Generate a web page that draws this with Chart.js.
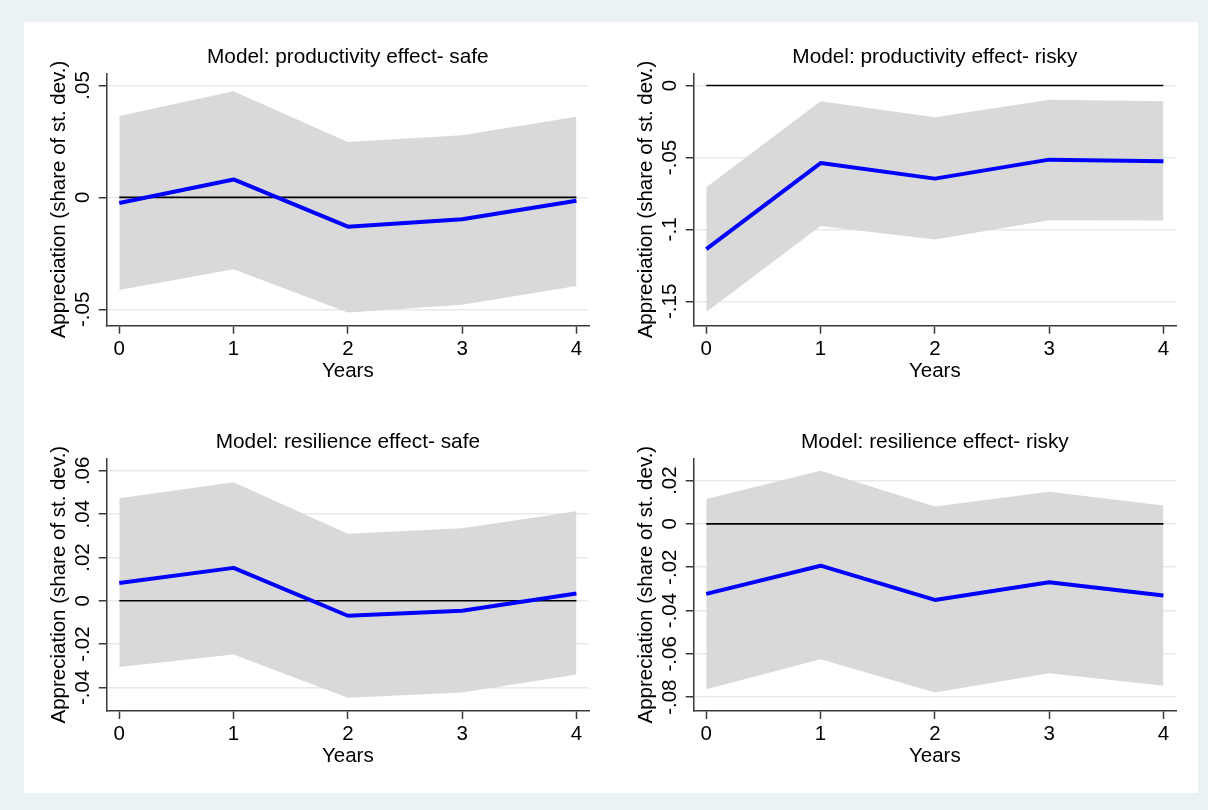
<!DOCTYPE html>
<html><head><meta charset="utf-8">
<script src="https://cdn.jsdelivr.net/npm/chart.js@4.4.1/dist/chart.umd.min.js"></script>
<style>
html,body{margin:0;padding:0;background:#eaf2f3;}
#wrap{position:relative;width:1208px;height:810px;background:#eaf2f3;overflow:hidden}
#inner{position:absolute;left:24px;top:22px;width:1174px;height:771px;background:#fff}
canvas{position:absolute}
</style></head><body>
<div id="wrap">
<div id="inner"></div>
<canvas id="c1" width="587" height="383" style="left:24px;top:22px"></canvas>
<canvas id="c2" width="587" height="383" style="left:611px;top:22px"></canvas>
<canvas id="c3" width="587" height="388" style="left:24px;top:405px"></canvas>
<canvas id="c4" width="587" height="388" style="left:611px;top:405px"></canvas>
</div>
<script>
// ---- data ----
const years = [0, 1, 2, 3, 4];
const xTickValues = [0, 1, 2, 3, 4];
const xTickLabels = ["0", "1", "2", "3", "4"];

const titles = [
  "Model: productivity effect- safe",
  "Model: productivity effect- risky",
  "Model: resilience effect- safe",
  "Model: resilience effect- risky"
];

const prodSafeEst   = [-0.0025, 0.0080, -0.0131, -0.0098, -0.0015];
const prodSafeUpper = [0.0363, 0.0474, 0.0247, 0.0277, 0.0360];
const prodSafeLower = [-0.0414, -0.0321, -0.0514, -0.0479, -0.0396];

const prodRiskyEst   = [-0.1137, -0.0539, -0.0647, -0.0515, -0.0527];
const prodRiskyUpper = [-0.0707, -0.0109, -0.0220, -0.0099, -0.0109];
const prodRiskyLower = [-0.1574, -0.0976, -0.1070, -0.0936, -0.0938];

const resSafeEst   = [0.0082, 0.0152, -0.0069, -0.0046, 0.0034];
const resSafeUpper = [0.0474, 0.0547, 0.0310, 0.0335, 0.0414];
const resSafeLower = [-0.0306, -0.0248, -0.0448, -0.0423, -0.0340];

const resRiskyEst   = [-0.0323, -0.0193, -0.0351, -0.0269, -0.0331];
const resRiskyUpper = [0.0115, 0.0245, 0.0080, 0.0149, 0.0085];
const resRiskyLower = [-0.0764, -0.0625, -0.0779, -0.0690, -0.0747];

const zeroLine = [0, 0, 0, 0, 0];

const yTicks1 = [-0.05, 0, 0.05];
const yLabels1 = ["-.05", "0", ".05"];
const yTicks2 = [-0.15, -0.1, -0.05, 0];
const yLabels2 = ["-.15", "-.1", "-.05", "0"];
const yTicks3 = [-0.04, -0.02, 0, 0.02, 0.04, 0.06];
const yLabels3 = ["-.04", "-.02", "0", ".02", ".04", ".06"];
const yTicks4 = [-0.08, -0.06, -0.04, -0.02, 0, 0.02];
const yLabels4 = ["-.08", "-.06", "-.04", "-.02", "0", ".02"];

const yTitle = "Appreciation (share of st. dev.)";
const xTitle = "Years";

// ---- rendering ----
const FONT = "'Liberation Sans', Arial, Helvetica, sans-serif";
const AXIS_COL = '#3a3a3a';
const GRID_COL = '#e3ebed';
const AX_SIZE = 20.5;

function pts(vals) { return years.map((x, i) => ({x: x, y: vals[i]})); }

// Title centred over the plot region (as in the reference)
const panelTitle = {
  id: 'panelTitle',
  afterDraw(chart, args, opts) {
    const {ctx, chartArea} = chart;
    ctx.save();
    ctx.fillStyle = '#000';
    ctx.font = '20.8px ' + FONT;
    ctx.textAlign = 'center';
    ctx.textBaseline = 'middle';
    ctx.fillText(opts.text, (chartArea.left + chartArea.right) / 2, opts.y);
    ctx.restore();
  }
};

function makePanel(id, title, est, upper, lower, yMin, yMax, yTicks, yLabels, geo) {
  const ctx = document.getElementById(id);
  return new Chart(ctx, {
    type: 'line',
    plugins: [panelTitle],
    data: {
      datasets: [
        {label: 'est', data: pts(est), borderColor: '#0000ff', borderWidth: 4,
         pointRadius: 0, fill: false, tension: 0, borderJoinStyle: 'round', borderCapStyle: 'butt'},
        {label: 'zero', data: pts(zeroLine), borderColor: '#000000', borderWidth: 1.6,
         pointRadius: 0, fill: false, tension: 0},
        {label: 'lower', data: pts(lower), borderWidth: 0, borderColor: 'rgba(0,0,0,0)',
         pointRadius: 0, fill: false, tension: 0},
        {label: 'upper', data: pts(upper), borderWidth: 0, borderColor: 'rgba(0,0,0,0)',
         backgroundColor: '#d9d9d9', pointRadius: 0, fill: '-1', tension: 0}
      ]
    },
    options: {
      responsive: false,
      animation: false,
      devicePixelRatio: 1,
      layout: {padding: {left: 0, right: 22, top: geo.top, bottom: 0}},
      plugins: {
        legend: {display: false},
        tooltip: {enabled: false},
        title: {display: false},
        panelTitle: {text: title, y: geo.titleY}
      },
      scales: {
        x: {
          type: 'linear', min: -0.11, max: 4.11,
          afterBuildTicks: s => { s.ticks = xTickValues.map(v => ({value: v})); },
          afterFit: s => { s.height = geo.xHeight; },
          ticks: {autoSkip: false, includeBounds: false, color: '#000', padding: 3.3,
                  font: {family: FONT, size: AX_SIZE, lineHeight: 1.2},
                  callback: v => xTickLabels[xTickValues.indexOf(v)]},
          grid: {drawOnChartArea: false, drawTicks: true, tickLength: 8, tickColor: AXIS_COL, tickWidth: 1.5},
          border: {display: true, color: AXIS_COL, width: 1.5},
          title: {display: true, text: xTitle, color: '#000',
                  font: {family: FONT, size: AX_SIZE, lineHeight: 1.2},
                  padding: {top: 0, bottom: geo.xTitleBottom}}
        },
        y: {
          type: 'linear', min: yMin, max: yMax,
          afterBuildTicks: s => { s.ticks = yTicks.map(v => ({value: v})); },
          afterFit: s => { s.width = 82.7; },
          ticks: {autoSkip: false, includeBounds: false, color: '#000', padding: -2.2,
                  minRotation: 90, maxRotation: 90, crossAlign: 'center',
                  font: {family: FONT, size: AX_SIZE, lineHeight: 1.2},
                  callback: v => yLabels[yTicks.indexOf(v)]},
          grid: {drawOnChartArea: true, color: GRID_COL, lineWidth: 1.5,
                 drawTicks: true, tickLength: 8, tickColor: AXIS_COL, tickWidth: 1.5},
          border: {display: true, color: AXIS_COL, width: 1.5},
          title: {display: true, text: yTitle, color: '#000',
                  font: {family: FONT, size: AX_SIZE, lineHeight: 1.2},
                  padding: {top: 22.7, bottom: 0}}
        }
      }
    }
  });
}

const geoTop = {top: 51.3, titleY: 35.3, xHeight: 79.3, xTitleBottom: 21.4};
const geoBottom = {top: 53.3, titleY: 37.3, xHeight: 82, xTitleBottom: 24.1};

makePanel('c1', titles[0], prodSafeEst, prodSafeUpper, prodSafeLower, -0.0573, 0.0554, yTicks1, yLabels1, geoTop);
makePanel('c2', titles[1], prodRiskyEst, prodRiskyUpper, prodRiskyLower, -0.1669, 0.0085, yTicks2, yLabels2, geoTop);
makePanel('c3', titles[2], resSafeEst, resSafeUpper, resSafeLower, -0.0509, 0.0658, yTicks3, yLabels3, geoBottom);
makePanel('c4', titles[3], resRiskyEst, resRiskyUpper, resRiskyLower, -0.0864, 0.0303, yTicks4, yLabels4, geoBottom);
</script>
</body></html>
